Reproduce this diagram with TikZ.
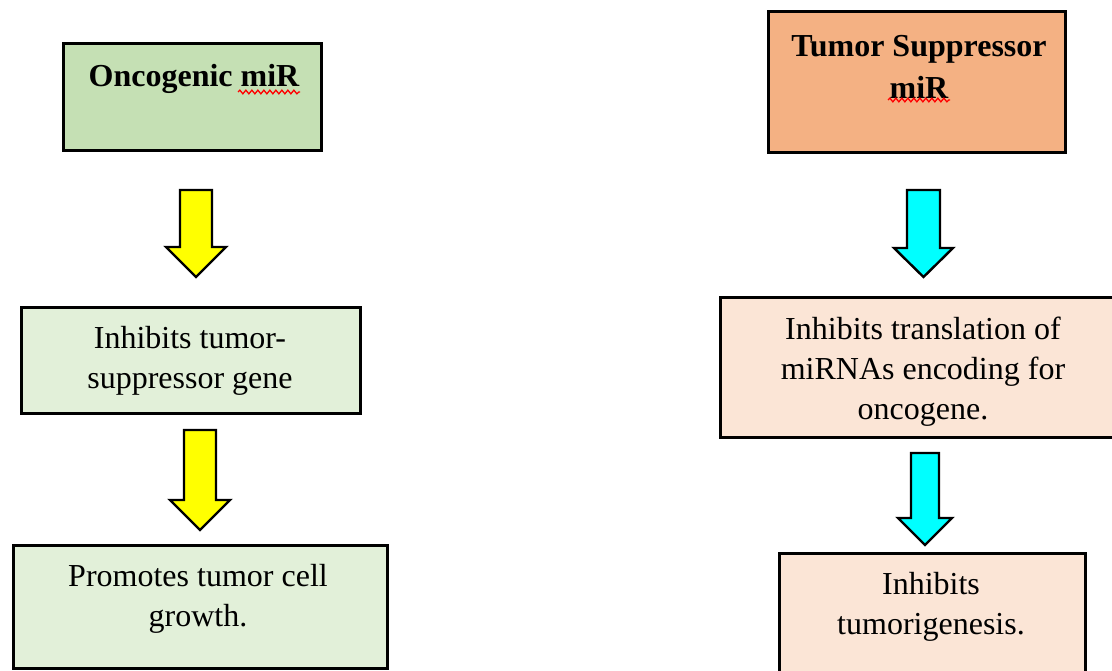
\documentclass[tikz,border=0pt]{standalone}
\usepackage{fontspec}
\setmainfont{Liberation Serif}
\usetikzlibrary{decorations.pathmorphing}
\definecolor{greenhead}{HTML}{C5E0B4}
\definecolor{greenlight}{HTML}{E2F0D9}
\definecolor{orangehead}{HTML}{F4B183}
\definecolor{orangelight}{HTML}{FBE5D6}
\definecolor{arrowyellow}{HTML}{FFFF00}
\definecolor{arrowcyan}{HTML}{00FFFF}
\tikzset{
  boxnode/.style={draw=black, line width=3pt, rectangle, inner sep=0pt},
  headtext/.style={font=\fontsize{32}{42}\selectfont\bfseries, align=center, inner sep=0pt},
  bodytext/.style={font=\fontsize{32}{40}\selectfont, align=center, inner sep=0pt},
  blockarrow/.style={draw=black, line width=2.4pt, line join=miter},
  spell/.style={red, line width=1.3pt, decorate, decoration={snake, amplitude=1.8pt, segment length=6pt}}
}
% #1 centre x, #2 top y, #3 head top y, #4 tip y, #5 shaft half width, #6 head half width, #7 fill
\newcommand{\myblockarrow}[7]{%
  \draw[blockarrow, fill=#7]
    (#1-#5,#2) -- (#1+#5,#2) -- (#1+#5,#3) -- (#1+#6,#3) -- (#1,#4)
    -- (#1-#6,#3) -- (#1-#5,#3) -- cycle;}
\begin{document}
\begin{tikzpicture}[x=1pt, y=-1pt]
\useasboundingbox (0,0) rectangle (1112,671);
\clip (0,0) rectangle (1112,671);
\fill[white] (0,0) rectangle (1112,671);

% left column
\node[boxnode, fill=greenhead, minimum width=258pt, minimum height=107pt] (b1) at (192,97.5) {};
\node[headtext] (t1) at (194,79) {Oncogenic miR};
\node[boxnode, fill=greenlight, minimum width=339pt, minimum height=105pt] (b3) at (190.5,360.5) {};
\node[bodytext] (t3) at (190,361) {Inhibits tumor-\\suppressor gene};
\node[boxnode, fill=greenlight, minimum width=374pt, minimum height=123pt] (b4) at (200,606.5) {};
\node[bodytext] (t4) at (198,599) {Promotes tumor cell\\growth.};

% right column
\node[boxnode, fill=orangehead, minimum width=297pt, minimum height=141pt] (b2) at (916.5,82.5) {};
\node[headtext] (t2) at (919,67) {Tumor Suppressor\\miR};
\node[boxnode, fill=orangelight, minimum width=420pt, minimum height=139pt] (b5) at (930,367.5) {};
\node[bodytext] (t5) at (923,372) {Inhibits translation of\\miRNAs encoding for\\oncogene.};
\node[boxnode, fill=orangelight, minimum width=306pt, minimum height=160pt] (b6) at (932,633) {};
\node[bodytext] (t6) at (931,607) {Inhibits\\tumorigenesis.};

% spell-check underlines
\draw[spell] (238,92) -- (300,92);
\draw[spell] (888,100) -- (950,100);

% block arrows
\myblockarrow{196}{190}{247}{277}{16}{30}{arrowyellow}
\myblockarrow{200}{430}{500}{530}{16}{30}{arrowyellow}
\myblockarrow{923.5}{190}{248}{277}{16.5}{29.5}{arrowcyan}
\myblockarrow{925}{453}{518}{545}{14}{27}{arrowcyan}
\end{tikzpicture}
\end{document}
